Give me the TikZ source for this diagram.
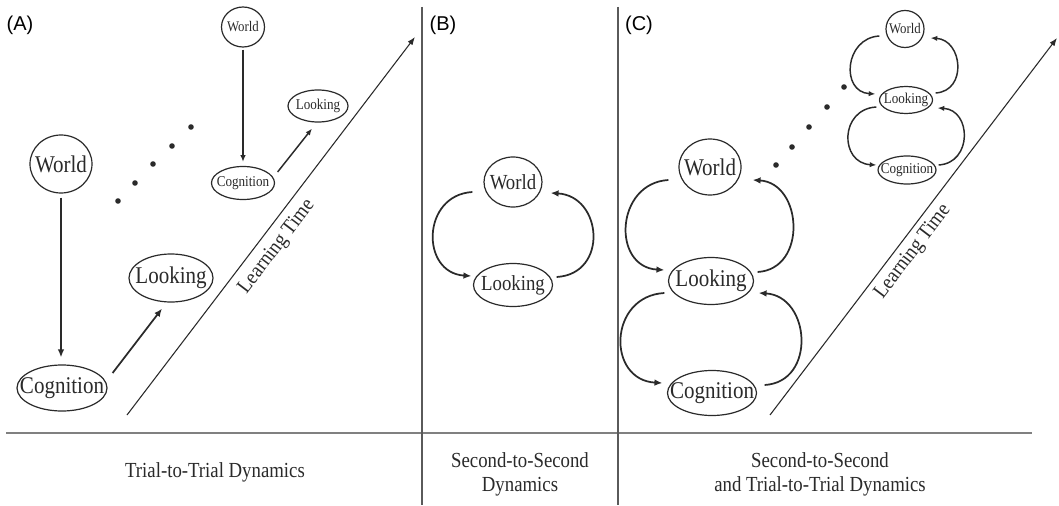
\documentclass[tikz,border=0pt]{standalone}
\usepackage{fontspec}
\setmainfont{Liberation Serif}
\newfontfamily\panelfont{Liberation Sans}
\usetikzlibrary{shapes.geometric,arrows.meta}
\definecolor{ink}{HTML}{2A2A2A}
\definecolor{rulec}{HTML}{808080}
\definecolor{vrule}{HTML}{5A5A5A}
\newcommand\ltxt[2]{\makebox[0pt]{\fontsize{#1}{#1}\selectfont\scalebox{0.875}[1]{#2}}}
\tikzset{
  el/.style 2 args={ellipse, draw=ink, line width=0.9pt, minimum width=#1*0.75pt, minimum height=#2*0.75pt, inner sep=0pt, text=ink},
  arr/.style={draw=ink, line width=1.3pt, -{Latex[length=6pt,width=5pt]}},
  sarr/.style={draw=ink, line width=1.1pt, -{Latex[length=5pt,width=4pt]}},
  ltline/.style={draw=ink, line width=0.8pt, -{Latex[length=6pt,width=4.5pt]}},
  ltlabel/.style={rotate=52.7, inner sep=0pt, text=ink, font=\fontsize{15.75pt}{15.75pt}\selectfont},
  paneltag/.style={text=black, inner sep=0pt, font=\panelfont\fontsize{15pt}{15pt}\selectfont},
  bottomtxt/.style={text=ink, inner sep=0pt, font=\fontsize{16.1pt}{18pt}\selectfont},
  dot/.style={fill=ink}
}
\begin{document}
\begin{tikzpicture}[x=0.75pt,y=-0.75pt]
\useasboundingbox[fill=white] (0,0) rectangle (1059,506);

% frame lines
\coordinate (h0) at (6,433); \coordinate (h1) at (1032,433);
\draw[rulec, line width=1.6pt] (h0) -- (h1);
\coordinate (v1a) at (422,7); \coordinate (v1b) at (422,505);
\coordinate (v2a) at (618,7); \coordinate (v2b) at (618,505);
\draw[vrule, line width=1.1pt] (v1a) -- (v1b);
\draw[vrule, line width=1.1pt] (v2a) -- (v2b);

% panel tags
\node[paneltag] (tagA) at (20,25) {(A)};
\node[paneltag] (tagB) at (443,25) {(B)};
\node[paneltag] (tagC) at (639,25) {(C)};

% ---------- Panel A ----------
\node[el={62}{58}] (Wa) at (61,164) {\ltxt{18pt}{World}};
\node[el={90}{46}] (Ca) at (62,388) {\ltxt{18pt}{Cognition}};
\node[el={84}{48}] (La) at (171,278) {\ltxt{18pt}{Looking}};
\draw[arr] ([shift={(0,4)}]Wa.south) -- ([shift={(0,-7)}]Wa.south |- Ca.north);
\draw[arr] ([shift={(5,-15)}]Ca.east) -- ([shift={(-9,6)}]La.south);

\node[el={43}{40}] (Wsa) at (243,27) {\ltxt{11pt}{World}};
\node[el={63}{33}] (Csa) at (243,183) {\ltxt{11.25pt}{Cognition}};
\node[el={60}{32}] (Lsa) at (318,106) {\ltxt{11.25pt}{Looking}};
\draw[sarr] ([shift={(0,2)}]Wsa.south) -- ([shift={(0,-4)}]Csa.north);
\draw[sarr] ([shift={(2.5,-11)}]Csa.east) -- ([shift={(-6,6)}]Lsa.south);

\foreach \p in {(118,201),(135,183),(153,164),(172,146),(191,127)}
  \fill[dot] \p circle[radius=2.8];

\coordinate (lta0) at (127,415); \coordinate (lta1) at (415,37);
\draw[ltline] (lta0) -- (lta1);
\node[ltlabel] (LTa) at (277,247) {\scalebox{0.9}[1]{Learning Time}};

% ---------- Panel B ----------
\node[el={58}{50}] (Wb) at (513,182) {\ltxt{16.1pt}{World}};
\node[el={79}{43}] (Lb) at (513,285) {\ltxt{16.1pt}{Looking}};
\draw[arr] ([shift={(-11,10)}]Wb.west) .. controls +(-51,3) and +(-51,-3) .. ([shift={(-1.5,-9)}]Lb.west);
\draw[arr] ([shift={(3.5,-8)}]Lb.east) .. controls +(52,-3) and +(52,3) .. ([shift={(8,11)}]Wb.east);

% ---------- Panel C ----------
\node[el={62}{56}] (Wc) at (710,167) {\ltxt{18pt}{World}};
\node[el={85}{47}] (Lc) at (711,281) {\ltxt{18pt}{Looking}};
\node[el={89}{45}] (Cc) at (712,393) {\ltxt{18pt}{Cognition}};
\draw[arr] ([shift={(-10,13)}]Wc.west) .. controls +(-53,3) and +(-53,-3) .. ([shift={(-3.5,-11)}]Lc.west);
\draw[arr] ([shift={(3.5,-9)}]Lc.east) .. controls +(50,-3) and +(50,3) .. ([shift={(11,13)}]Wc.east);
\draw[arr] ([shift={(-3.5,12)}]Lc.west) .. controls +(-56,3) and +(-56,-3) .. ([shift={(-4.5,-10)}]Cc.west);
\draw[arr] ([shift={(7.5,-8)}]Cc.east) .. controls +(52,-3) and +(52,3) .. ([shift={(4.5,12)}]Lc.east);

\node[el={38}{37}] (Wsc) at (905,29) {\ltxt{11pt}{World}};
\node[el={53}{27}] (Lsc) at (906,100) {\ltxt{11.25pt}{Looking}};
\node[el={58}{28}] (Csc) at (907,170) {\ltxt{11.25pt}{Cognition}};
\draw[sarr] ([shift={(-6,7)}]Wsc.west) .. controls +(-35,2) and +(-35,-2) .. ([shift={(-3.5,-6)}]Lsc.west);
\draw[sarr] ([shift={(2.5,-7)}]Lsc.east) .. controls +(32,-2) and +(32,2) .. ([shift={(6,9)}]Wsc.east);
\draw[sarr] ([shift={(-2.5,7)}]Lsc.west) .. controls +(-37,2) and +(-37,-2) .. ([shift={(-1,-5)}]Csc.west);
\draw[sarr] ([shift={(2,-5)}]Csc.east) .. controls +(34,-2) and +(34,2) .. ([shift={(4.5,8)}]Lsc.east);

\foreach \p in {(776,165),(792,147),(809,127),(827,107),(844,87)}
  \fill[dot] \p circle[radius=2.8];

\coordinate (ltc0) at (770,415); \coordinate (ltc1) at (1057,38);
\draw[ltline] (ltc0) -- (ltc1);
\node[ltlabel] (LTc) at (913,252) {\scalebox{0.9}[1]{Learning Time}};

% ---------- bottom captions ----------
\node[bottomtxt] (capA) at (215,472) {\scalebox{0.875}[1]{Trial-to-Trial Dynamics}};
\node[bottomtxt] (capB) at (520,475) {\scalebox{0.875}[1]{\begin{tabular}{@{}c@{}}Second-to-Second\\Dynamics\end{tabular}}};
\node[bottomtxt] (capC) at (820,475) {\scalebox{0.875}[1]{\begin{tabular}{@{}c@{}}Second-to-Second\\and Trial-to-Trial Dynamics\end{tabular}}};
\end{tikzpicture}
\end{document}
